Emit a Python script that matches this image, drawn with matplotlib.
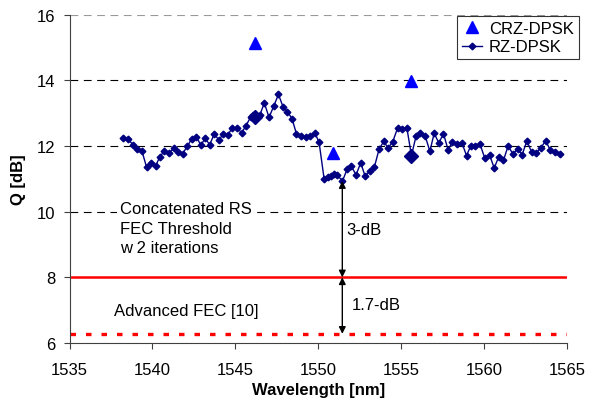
import matplotlib
matplotlib.use("Agg")
import matplotlib.pyplot as plt

plt.rcParams['font.family'] = ['Liberation Sans', 'DejaVu Sans']

# RZ-DPSK series
rz_wl = [1538.22, 1538.54, 1538.82, 1539.08, 1539.37, 1539.65, 1539.93, 1540.19, 1540.45, 1540.71,
         1540.99, 1541.28, 1541.54, 1541.82, 1542.10, 1542.36, 1542.65, 1542.91, 1543.19, 1543.45,
         1543.73, 1544.01, 1544.28, 1544.55, 1544.82, 1545.10, 1545.38, 1545.64, 1545.92, 1546.05,
         1546.20, 1546.47, 1546.75, 1547.03, 1547.31, 1547.60, 1547.88, 1548.14, 1548.42, 1548.68,
         1548.96, 1549.24, 1549.50, 1549.79, 1550.05, 1550.35, 1550.61, 1550.79, 1550.93, 1551.16,
         1551.46, 1551.74, 1552.00, 1552.28, 1552.56, 1552.82, 1553.11, 1553.39, 1553.67, 1553.95,
         1554.21, 1554.49, 1554.78, 1555.05, 1555.34, 1555.62, 1555.90, 1556.16, 1556.44, 1556.73,
         1556.99, 1557.27, 1557.55, 1557.83, 1558.09, 1558.37, 1558.66, 1558.94, 1559.20, 1559.48,
         1559.76, 1560.04, 1560.33, 1560.61, 1560.89, 1561.17, 1561.45, 1561.74, 1562.02, 1562.30,
         1562.58, 1562.86, 1563.14, 1563.42, 1563.71, 1563.99, 1564.27, 1564.55]
rz_q = [12.25, 12.21, 12.04, 11.91, 11.84, 11.35, 11.48, 11.39, 11.68, 11.84,
        11.78, 11.93, 11.82, 11.77, 11.99, 12.21, 12.29, 12.03, 12.23, 12.04,
        12.37, 12.18, 12.38, 12.34, 12.56, 12.56, 12.40, 12.62, 12.88, 12.94,
        12.88, 12.94, 13.31, 12.87, 13.21, 13.57, 13.19, 13.05, 12.83, 12.38,
        12.30, 12.29, 12.30, 12.41, 12.11, 11.01, 11.05, 11.09, 11.14, 11.11,
        10.93, 11.30, 11.38, 11.12, 11.49, 11.09, 11.23, 11.37, 11.91, 12.14,
        11.94, 12.13, 12.54, 12.52, 12.56, 11.71, 12.31, 12.41, 12.32, 11.84,
        12.39, 12.09, 12.38, 11.88, 12.13, 12.05, 12.10, 11.71, 12.01, 12.01,
        12.05, 11.63, 11.73, 11.33, 11.68, 11.56, 12.01, 11.75, 11.91, 11.74,
        12.16, 11.82, 11.79, 11.94, 12.16, 11.88, 11.82, 11.75]

# highlighted RZ-DPSK points (larger markers)
hl_wl = [1546.20, 1555.62]
hl_q = [12.88, 11.71]

# CRZ-DPSK series
crz_wl = [1546.2, 1550.9, 1555.6]
crz_q = [15.14, 11.78, 13.98]

fec_rs = 8.0
fec_adv = 6.28
arrow_x = 1551.45
arrow_top = 10.93

FS = 12

fig = plt.figure(figsize=(6.03, 4.06), dpi=100)
ax = fig.add_axes([0.1153, 0.1527, 0.825, 0.8086])

ax.set_xlim(1535, 1565)
ax.set_ylim(6, 16)
ax.set_xticks([1535, 1540, 1545, 1550, 1555, 1560, 1565])
ax.set_yticks([6, 8, 10, 12, 14, 16])

for yv in [10, 12, 14]:
    ax.axhline(yv, color='black', lw=0.8, dashes=(7, 5), zorder=1)
ax.axhline(16, color='#999999', lw=0.8, dashes=(7, 5), zorder=1)

ax.axhline(fec_rs, color='#ff0000', lw=1.8, zorder=2)
ax.axhline(fec_adv, color='#ff0000', lw=2.4, dashes=(1.65, 3.0), zorder=2)

ax.plot(crz_wl, crz_q, linestyle='none', marker='^', color='#0000ff', markersize=8,
        label='CRZ-DPSK', zorder=4)
ax.plot(rz_wl, rz_q, color='#000080', lw=1, marker='D', markersize=3.4,
        label='RZ-DPSK', zorder=3)
ax.plot(hl_wl, hl_q, linestyle='none', marker='D', color='#000080', markersize=7, zorder=3)

ax.annotate('', xy=(arrow_x, arrow_top), xytext=(arrow_x, fec_rs),
            arrowprops=dict(arrowstyle='<|-|>', color='black', lw=1, mutation_scale=10,
                            shrinkA=0, shrinkB=0), zorder=5)
ax.annotate('', xy=(arrow_x, fec_rs), xytext=(arrow_x, fec_adv),
            arrowprops=dict(arrowstyle='<|-|>', color='black', lw=1, mutation_scale=10,
                            shrinkA=0, shrinkB=0), zorder=5)

ax.text(1551.7, 9.45, '3-dB', fontsize=FS, va='center', ha='left')
ax.text(1552.0, 7.17, '1.7-dB', fontsize=FS, va='center', ha='left')
ax.text(1538.05, 9.5, 'Concatenated RS\nFEC Threshold\nw 2 iterations', fontsize=FS,
        va='center', ha='left', linespacing=1.4,
        bbox=dict(facecolor='white', edgecolor='none', pad=2))
ax.text(1537.7, 7.0, 'Advanced FEC [10]', fontsize=FS, va='center', ha='left')

for s in ['top', 'right']:
    ax.spines[s].set_visible(False)
for s in ['left', 'bottom']:
    ax.spines[s].set_color('#404040')
ax.tick_params(direction='out', length=4.5, color='#404040', labelsize=FS)
ax.tick_params(axis='x', pad=9)
ax.tick_params(axis='y', pad=5.5)

ax.set_xlabel('Wavelength [nm]', fontsize=FS, fontweight='bold', labelpad=4)
ax.set_ylabel('Q [dB]', fontsize=FS, fontweight='bold', labelpad=8)

leg = ax.legend(loc='upper right', bbox_to_anchor=(0.960, 0.958), bbox_transform=fig.transFigure,
                borderaxespad=0, fontsize=FS, frameon=True, fancybox=False, edgecolor='black',
                handlelength=1.2, handletextpad=0.4, borderpad=0.3, labelspacing=0.2)
leg.get_frame().set_linewidth(0.8)

fig.savefig('out.png', dpi=100)
